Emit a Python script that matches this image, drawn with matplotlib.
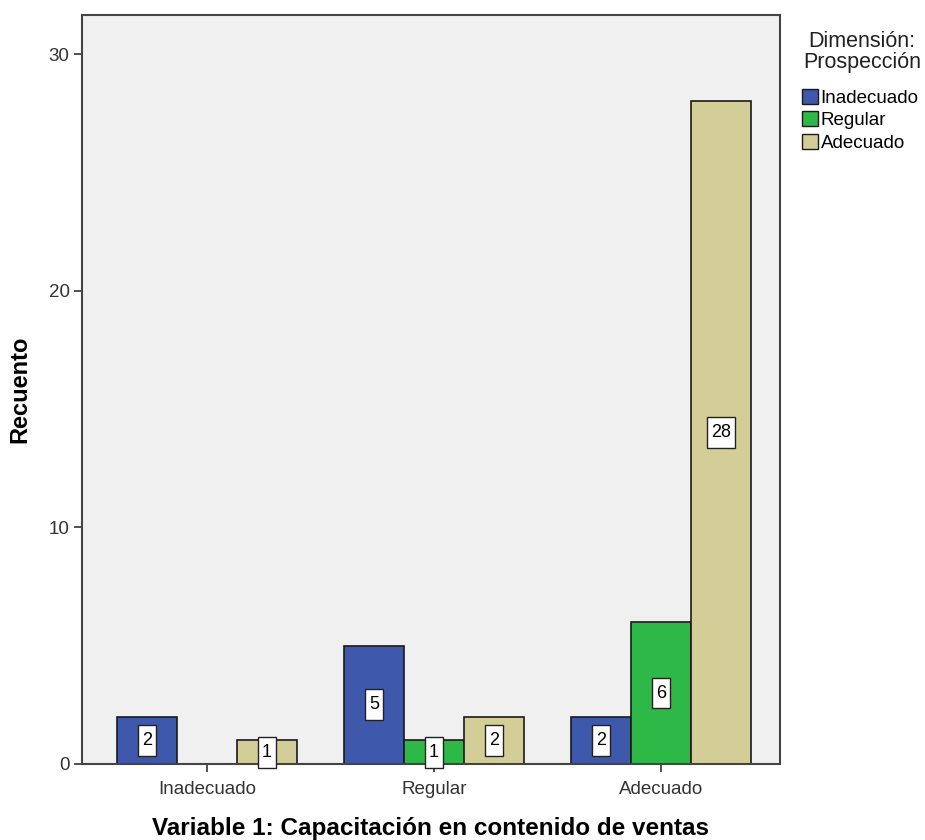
import matplotlib.pyplot as plt
import numpy as np
from matplotlib.patches import Patch
from matplotlib.path import Path

plt.rcParams['font.family'] = ['Liberation Sans', 'DejaVu Sans']

categories = ["Inadecuado", "Regular", "Adecuado"]
series_names = ["Inadecuado", "Regular", "Adecuado"]
inadecuado = [2, 5, 2]
regular = [0, 1, 6]
adecuado = [1, 2, 28]
series_values = [inadecuado, regular, adecuado]
colors = ["#3E58AC", "#2EB848", "#D3CD98"]
yticks = [0, 10, 20, 30]


def tall_box(x0, y0, width, height, mutation_size):
    """Rectangular label box with more vertical than horizontal padding."""
    px = 0.22 * mutation_size
    py = 0.38 * mutation_size
    x0, x1 = x0 - px, x0 + width + px
    y0, y1 = y0 - py, y0 + height + py
    return Path([(x0, y0), (x1, y0), (x1, y1), (x0, y1), (x0, y0)], closed=True)


fig = plt.figure(figsize=(9.25, 8.4), dpi=100)
ax = fig.add_axes([82 / 925, 1 - 764 / 840, (780 - 82) / 925, (764 - 15) / 840])
ax.set_facecolor("#F0F0F0")

x = np.arange(len(categories))
width = 0.264
for i, (vals, col) in enumerate(zip(series_values, colors)):
    pos = x + (i - 1) * width
    for xp, v in zip(pos, vals):
        if v <= 0:
            continue
        ax.bar(xp, v, width=width, color=col, edgecolor="#1a1a1a", linewidth=1.2, zorder=2)
        ax.text(xp, v / 2, str(v), ha="center", va="center", fontsize=13, color="black",
                zorder=3,
                bbox=dict(boxstyle=tall_box, facecolor="white",
                          edgecolor="#222222", linewidth=1.0))

ax.set_xlim(-0.551, 2.524)
ax.set_ylim(0, 31.65)
ax.set_xticks(x)
ax.set_xticklabels(categories, fontsize=13.5, color="#333333")
ax.set_yticks(yticks)
ax.set_yticklabels([str(t) for t in yticks], fontsize=13.5, color="#333333")
ax.tick_params(axis="both", direction="out", length=6, width=1.2, color="#333333")
ax.tick_params(axis="x", pad=6)
ax.tick_params(axis="y", pad=3)

for side in ["left", "top", "right", "bottom"]:
    ax.spines[side].set_color("#444444")
    ax.spines[side].set_linewidth(1.5)

ax.set_ylabel("Recuento", fontsize=17, fontweight="bold", labelpad=12)
ax.set_xlabel("Variable 1: Capacitación en contenido de ventas", fontsize=17.5,
              fontweight="bold", labelpad=14)

fig.text(862 / 925, 1 - 52 / 840, "Dimensión:\nProspección", ha="center", va="center",
         fontsize=15.5, color="#222222", linespacing=1.05)

handles = [Patch(facecolor=c, edgecolor="#1a1a1a", linewidth=1.0) for c in colors]
leg = fig.legend(handles, series_names,
                 loc="upper left", bbox_to_anchor=(802 / 925, 1 - 89 / 840),
                 frameon=False, fontsize=13.5,
                 handlelength=0.85, handleheight=0.85, handletextpad=0.15,
                 labelspacing=0.24, borderaxespad=0, borderpad=0)

fig.savefig("out.png", dpi=100)
